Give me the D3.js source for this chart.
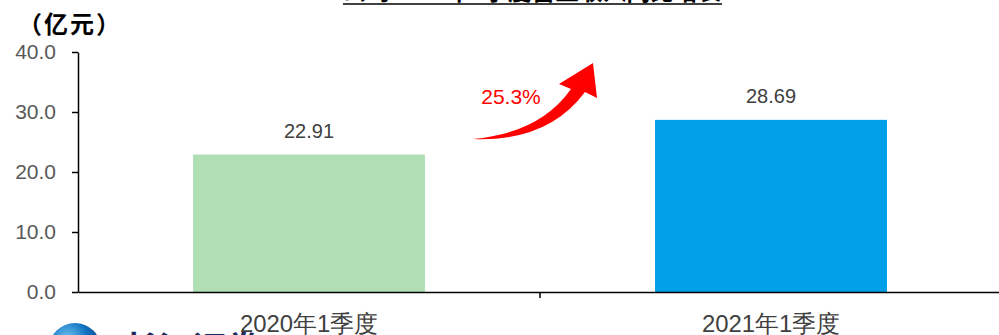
<!DOCTYPE html>
<html><head><meta charset="utf-8">
<script src="https://cdn.jsdelivr.net/npm/d3@7"></script>
<style>
html,body{margin:0;padding:0;background:#fff;overflow:hidden}
svg{display:block}
</style></head>
<body>
<svg id="chart" width="999" height="335"></svg>
<script>
const categories = ["2020年1季度", "2021年1季度"];
const values = [22.91, 28.69];
const barColors = ["#b0dfb4", "#00a0e9"];
const yTicks = [0, 10, 20, 30, 40];
const growthLabel = "25.3%";
const unitLabel = "（亿元）";
const titleText = "公司2021年1季度营业收入同比增长";
const logoText = "长江证券";

const svg = d3.select("#chart");
const m = {left: 78, right: 1002, top: 52, bottom: 292};

const x = d3.scaleBand().domain(categories).range([m.left, m.right]).paddingInner(0).paddingOuter(0);
const y = d3.scaleLinear().domain([0, 40]).range([m.bottom, m.top]);

// defs
const defs = svg.append("defs");
const rg = defs.append("radialGradient").attr("id","globe").attr("cx","35%").attr("cy","30%").attr("r","70%");
rg.append("stop").attr("offset","0%").attr("stop-color","#6fc3f0");
rg.append("stop").attr("offset","55%").attr("stop-color","#1273c2");
rg.append("stop").attr("offset","100%").attr("stop-color","#0a3f86");

// title (cut off at top, as in the source)
svg.append("text").attr("x", 532).attr("y", 0).attr("text-anchor","middle")
  .attr("font-family","'Noto Sans CJK SC'").attr("font-weight","bold").attr("font-size",26)
  .attr("textLength",379).attr("lengthAdjust","spacingAndGlyphs")
  .attr("fill","#000").text(titleText);
svg.append("line").attr("x1",343).attr("x2",722).attr("y1",4).attr("y2",4)
  .attr("stroke","#000").attr("stroke-width",1.5);

// unit label
svg.append("text").attr("x", 18).attr("y", 33)
  .attr("font-family","'Noto Sans CJK SC'").attr("font-weight","bold").attr("font-size",24)
  .attr("letter-spacing",2)
  .attr("fill","#000").text(unitLabel);

// bars
const bw = x.bandwidth() * 0.502;
svg.selectAll("rect.bar").data(values).enter().append("rect")
  .attr("x", (d,i) => x(categories[i]) + (x.bandwidth()-bw)/2)
  .attr("y", d => y(d))
  .attr("width", bw)
  .attr("height", d => y(0) - y(d))
  .attr("fill", (d,i) => barColors[i]);

// value labels
svg.selectAll("text.val").data(values).enter().append("text")
  .attr("x", (d,i) => x(categories[i]) + x.bandwidth()/2)
  .attr("y", d => y(d) - 17)
  .attr("text-anchor","middle")
  .attr("font-family","Arial, 'Liberation Sans', sans-serif").attr("font-size",20)
  .attr("fill","#404040").text(d => d.toFixed(2));

// y axis
const yAxis = d3.axisLeft(y).tickValues(yTicks).tickFormat(d3.format(".1f")).tickSize(6).tickSizeOuter(0);
const gy = svg.append("g").attr("transform",`translate(${m.left},0)`).call(yAxis);
gy.select(".domain").attr("stroke","#000").attr("stroke-width",1.5);
gy.selectAll(".tick line").attr("stroke","#000").attr("stroke-width",1.5);
gy.selectAll(".tick text").attr("font-family","Arial, 'Liberation Sans', sans-serif")
  .attr("font-size",21).attr("fill","#595959").attr("x",-22);

// x axis
const xAxis = d3.axisBottom(x).tickSize(0).tickSizeOuter(0);

// logo (cut off at bottom, as in the source)
svg.append("circle").attr("cx",75).attr("cy",349).attr("r",26).attr("fill","url(#globe)");
svg.append("text").attr("x",124).attr("y",361)
  .attr("font-family","'Noto Sans CJK SC'").attr("font-weight","bold").attr("font-size",34)
  .attr("fill","#1a2a5e").text(logoText);

const gx = svg.append("g").attr("transform",`translate(0,${m.bottom})`).call(xAxis);
gx.select(".domain").attr("stroke","#000").attr("stroke-width",1.5);
gx.selectAll(".tick text").attr("font-family","'Liberation Sans Narrow', 'Arial Narrow', sans-serif")
  .attr("font-size",24).attr("fill","#404040").attr("dy",0).attr("y",40)
  .attr("textLength",138).attr("lengthAdjust","spacingAndGlyphs");
// separator ticks between categories
svg.selectAll("line.sep").data(categories.slice(1)).enter().append("line")
  .attr("x1", d => x(d)).attr("x2", d => x(d))
  .attr("y1", m.bottom).attr("y2", m.bottom + 6)
  .attr("stroke","#000").attr("stroke-width",1.5);

// growth arrow
svg.append("path")
  .attr("d","M473,139 Q540,133 571,89 L559,84 L593,63 L597,98 L585,92 Q548,142 473,139 Z")
  .attr("fill","#ff0000");
svg.append("text").attr("x", 511).attr("y", 104).attr("text-anchor","middle")
  .attr("font-family","Arial, 'Liberation Sans', sans-serif").attr("font-size",21)
  .attr("fill","#ff0000").text(growthLabel);
</script>
</body></html>
